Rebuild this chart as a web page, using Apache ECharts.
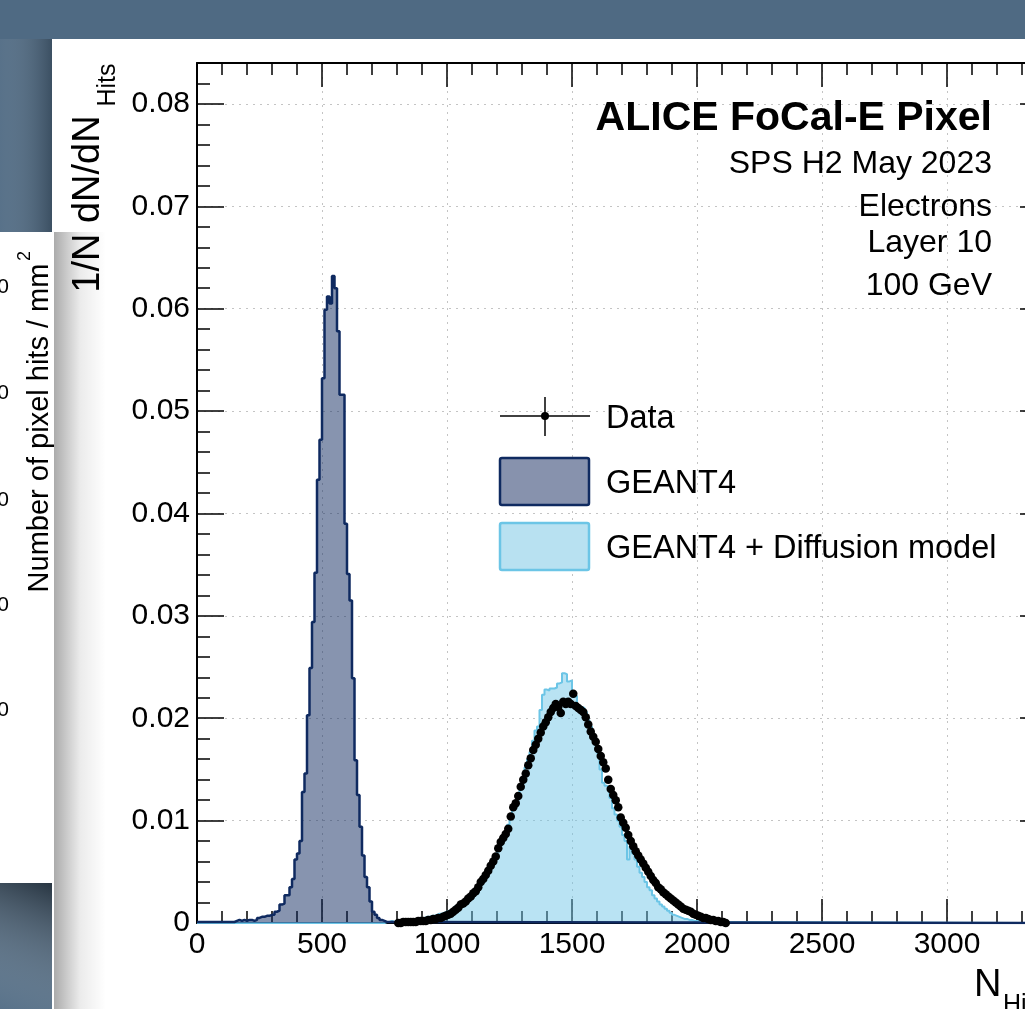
<!DOCTYPE html>
<html><head><meta charset="utf-8">
<script src="https://cdn.jsdelivr.net/npm/echarts@6/dist/echarts.min.js"></script>
<style>html,body{margin:0;padding:0;background:#4f6a83;overflow:hidden}#c{width:1025px;height:1009px}</style>
</head><body><div id="c"></div>
<script>
// ---- axis ranges / ticks ----
const X_MIN = 0, X_MAX = 3400, X_MAJOR = 500, X_MINOR = 100;
const Y_MIN = 0, Y_MAX = 0.084, Y_MAJOR = 0.01, Y_MINOR = 0.002;
const BIN = 10;

// ---- GEANT4 histogram (bin width 10, first bin starts at 0) ----
const geant4Start = 0;
const geant4 = [
  0.0001,0.0001,0.0001,0.0001,0.0001,0.0001,0.0001,0.0001,0.0001,0.0001,
  0.0001,0.0001,0.0001,0.0001,0.0001,0.0002,0.0003,0.0002,0.0003,0.0002,
  0.0003,0.0003,0.0002,0.0003,0.0005,0.0006,0.0006,0.0007,0.0007,0.0008,
  0.0008,0.0011,0.0012,0.0018,0.0019,0.0027,0.0027,0.0035,0.0043,0.0062,
  0.0068,0.0080,0.0128,0.0146,0.0203,0.0249,0.0294,0.0342,0.0433,0.0472,
  0.0532,0.0599,0.0612,0.0605,0.0632,0.0620,0.0578,0.0516,0.0516,0.0390,
  0.0341,0.0315,0.0239,0.0159,0.0125,0.0094,0.0066,0.0045,0.0035,0.0021,
  0.0011,0.0008,0.0005,0.0003,0.0002,0.0001,0.0001
];

// ---- GEANT4 + Diffusion model histogram (bin width 10, first bin at 750) ----
const diffusionStart = 750;
const diffusion = [
  0.0001,0.0001,0.0002,0.0001,0.0002,0.0002,0.0002,0.0003,0.0002,0.0003,
  0.0003,0.0004,0.0004,0.0005,0.0004,0.0005,0.0006,0.0006,0.0007,0.0007,
  0.0008,0.0009,0.0009,0.0010,0.0011,0.0012,0.0013,0.0014,0.0016,0.0017,
  0.0018,
  0.0020,0.0022,0.0024,0.0026,0.0029,0.0031,0.0035,0.0038,0.0042,0.0046,
  0.0050,0.0054,0.0060,0.0065,0.0070,0.0076,0.0082,0.0089,0.0096,0.0103,
  0.0111,0.0118,0.0126,0.0133,0.0141,0.0152,0.0160,0.0167,0.0178,0.0188,
  0.0192,0.0208,0.0223,0.0228,0.0227,0.0229,0.0229,0.0230,0.0234,0.0235,
  0.0244,0.0243,0.0236,0.0237,0.0221,0.0222,0.0212,0.0211,0.0210,0.0206,
  0.0198,0.0192,0.0182,0.0174,0.0166,0.0150,0.0137,0.0134,0.0133,0.0122,
  0.0112,0.0106,0.0100,0.0094,0.0086,0.0080,0.0062,0.0075,0.0068,0.0062,
  0.0055,0.0049,0.0045,0.0040,0.0035,0.0032,0.0027,0.0024,0.0021,0.0018,
  0.0016,0.0014,0.0012,0.0010,0.0008,0.0007,0.0006,0.0005,0.0004,0.0004,
  0.0003,0.0003,0.0002,0.0002,0.0002,0.0001,0.0001,0.0001,0.0001,0.0001
];

// ---- Data points (bin centres, width 10, first centre at 805) ----
const dataStart = 805;
const dataY = [
  0.0000,0.0000,0.0001,0.0001,0.0001,0.0001,0.0001,0.0001,0.0002,0.0002,
  0.0002,0.0002,0.0003,0.0003,0.0004,0.0004,0.0005,0.0005,0.0006,0.0007,
  0.0008,0.0009,0.0011,0.0013,0.0015,0.0018,0.0019,0.0021,0.0024,0.0026,
  0.0029,0.0031,0.0035,0.0040,0.0043,0.0047,0.0051,0.0056,0.0060,0.0065,
  0.0073,0.0079,0.0083,0.0087,0.0092,0.0104,0.0113,0.0117,0.0124,0.0133,
  0.0140,0.0146,0.0154,0.0161,0.0169,0.0174,0.0180,0.0186,0.0192,0.0196,
  0.0201,0.0206,0.0210,0.0214,0.0211,0.0205,0.0216,0.0214,0.0216,0.0214,
  0.0224,0.0212,0.0210,0.0208,0.0206,0.0201,0.0194,0.0187,0.0182,0.0177,
  0.0170,0.0163,0.0157,0.0151,0.0140,0.0131,0.0125,0.0120,0.0113,0.0103,
  0.0098,0.0093,0.0086,0.0080,0.0075,0.0070,0.0066,0.0062,0.0058,0.0054,
  0.0050,0.0046,0.0042,0.0039,0.0035,0.0033,0.0030,0.0028,0.0026,0.0024,
  0.0022,0.0020,0.0018,0.0016,0.0014,0.0013,0.0012,0.0011,0.0009,0.0008,
  0.0007,0.0006,0.0005,0.0005,0.0004,0.0003,0.0003,0.0002,0.0002,0.0001,
  0.0001,0.0000
];

// ---- texts ----
const titleLines = ['SPS H2 May 2023', 'Electrons', 'Layer 10', '100 GeV'];
const legendLabels = ['Data', 'GEANT4', 'GEANT4 + Diffusion model'];

const FONT = '"Liberation Sans", Arial, Helvetica, sans-serif';
const NAVY = '#0f2a60';
const LIGHT = '#6cc5e6';

function histLine(start, vals) {
  const pts = [];
  if (start > X_MIN) pts.push([X_MIN, 0]);
  vals.forEach((v, i) => pts.push([start + i * BIN, v]));
  pts.push([start + vals.length * BIN, 0]);
  pts.push([X_MAX, 0]);
  return pts;
}

const chart = echarts.init(document.getElementById('c'), null, {renderer: 'canvas'});

const tickLine = {color: '#000', width: 1.5};
const labelStyle = {show: true, showMaxLabel: false, margin: 7, fontSize: 30, fontFamily: FONT, color: '#000', formatter: v => String(v)};
function xAx(pos, interval, len, labels, split) {
  return {
    type: 'value', min: X_MIN, max: X_MAX, interval: interval, position: pos,
    axisLine: {show: true, onZero: false, lineStyle: {color: '#000', width: 2}},
    axisTick: {show: true, inside: true, length: len, lineStyle: tickLine},
    minorTick: {show: false},
    axisLabel: labels ? labelStyle : {show: false},
    splitLine: split ? {show: true, lineStyle: {color: '#c4c4c4', width: 1, type: [2, 5]}} : {show: false}
  };
}
function yAx(pos, interval, len, labels, split) {
  return {
    type: 'value', min: Y_MIN, max: Y_MAX, interval: interval, position: pos,
    axisLine: {show: true, onZero: false, lineStyle: {color: '#000', width: 2}},
    axisTick: {show: true, inside: true, length: len, lineStyle: tickLine},
    minorTick: {show: false},
    axisLabel: labels ? Object.assign({}, labelStyle, {formatter: v => String(Math.round(v * 1000) / 1000)}) : {show: false},
    splitLine: split ? {show: true, lineStyle: {color: '#c4c4c4', width: 1, type: [2, 5]}} : {show: false}
  };
}

const txt = (x, y, text, size, opts) => Object.assign({
  type: 'text', x: x, y: y, z: 20,
  style: Object.assign({text: text, fill: '#000', font: size + 'px ' + FONT, align: 'left', verticalAlign: 'middle'}, (opts && opts.style) || {})
}, opts && opts.rotation ? {rotation: opts.rotation} : {});

const LG = echarts.graphic.LinearGradient;
const graphics = [
  {type: 'rect', z: -10, shape: {x: 52, y: 39, width: 1000, height: 1000}, style: {fill: '#ffffff'}},
  {type: 'rect', z: -10, shape: {x: 0, y: 39, width: 52, height: 194},
    style: {fill: new LG(0, 0, 1, 0, [{offset: 0, color: 'rgba(255,255,255,0.05)'}, {offset: 1, color: 'rgba(0,0,0,0.25)'}])}},
  {type: 'rect', z: -10, shape: {x: 0, y: 883, width: 52, height: 126},
    style: {fill: new LG(0, 1, 1, 0, [{offset: 0, color: 'rgba(255,255,255,0.05)'}, {offset: 1, color: 'rgba(0,0,0,0.5)'}])}},
  {type: 'rect', z: -9, shape: {x: 0, y: 232, width: 54, height: 651}, style: {fill: '#ffffff'}},
  {type: 'rect', z: -9, shape: {x: 54, y: 232, width: 52, height: 777},
    style: {fill: new LG(0, 0, 1, 0, [{offset: 0, color: 'rgba(0,0,0,0.33)'}, {offset: 0.5, color: 'rgba(0,0,0,0.08)'}, {offset: 1, color: 'rgba(0,0,0,0)'}])}},
  txt(40, 428, 'Number of pixel hits / mm', 29, {rotation: Math.PI / 2, style: {align: 'center'}}),
  txt(25, 256, '2', 18, {rotation: Math.PI / 2, style: {align: 'center'}}),
  txt(9, 287, '0', 21, {style: {align: 'right'}}),
  txt(9, 393, '0', 21, {style: {align: 'right'}}),
  txt(9, 500, '0', 21, {style: {align: 'right'}}),
  txt(9, 605, '0', 21, {style: {align: 'right'}}),
  txt(9, 710, '0', 21, {style: {align: 'right'}}),
  txt(89, 204, '1/N dN/dN', 38, {rotation: Math.PI / 2, style: {align: 'center'}}),
  txt(108, 85, 'Hits', 25, {rotation: Math.PI / 2, style: {align: 'center'}}),
  txt(974, 986, 'N', 38),
  txt(1003, 1005, 'Hits', 25),
  txt(992, 119, 'ALICE FoCal-E Pixel', 41, {style: {align: 'right', font: 'bold 41px ' + FONT}}),
  txt(992, 164, titleLines[0], 32, {style: {align: 'right'}}),
  txt(992, 207, titleLines[1], 32, {style: {align: 'right'}}),
  txt(992, 243, titleLines[2], 32, {style: {align: 'right'}}),
  txt(992, 286, titleLines[3], 32, {style: {align: 'right'}}),
  {type: 'line', z: 20, shape: {x1: 500, y1: 416, x2: 590, y2: 416}, style: {stroke: '#000', lineWidth: 1.5}},
  {type: 'line', z: 20, shape: {x1: 545, y1: 397, x2: 545, y2: 436}, style: {stroke: '#000', lineWidth: 1.5}},
  {type: 'circle', z: 20, shape: {cx: 545, cy: 416, r: 4}, style: {fill: '#000'}},
  {type: 'rect', z: 20, shape: {x: 500, y: 458, width: 89, height: 47, r: 2}, style: {fill: '#8792ad', stroke: NAVY, lineWidth: 2.5}},
  {type: 'rect', z: 20, shape: {x: 500, y: 523, width: 89, height: 47, r: 2}, style: {fill: '#b8e1f1', stroke: LIGHT, lineWidth: 2.5}},
  txt(606, 419, legendLabels[0], 32.5),
  txt(606, 484, legendLabels[1], 32.5),
  txt(606, 549, legendLabels[2], 32.5)
];

const option = {
  animation: false,
  backgroundColor: '#4f6a83',
  grid: {left: 197, top: 63, width: (X_MAX - X_MIN) * 0.25, height: 860, containLabel: false, outerBoundsMode: 'none'},
  xAxis: [
    xAx('bottom', X_MAJOR, 24, true, true),
    xAx('top', X_MAJOR, 24, false, false),
    Object.assign(xAx('bottom', X_MINOR, 12, false, false), {axisLine: {show: false, onZero: false}}),
    Object.assign(xAx('top', X_MINOR, 12, false, false), {axisLine: {show: false, onZero: false}})
  ],
  yAxis: [
    yAx('left', Y_MAJOR, 27, true, true),
    yAx('right', Y_MAJOR, 27, false, false),
    Object.assign(yAx('left', Y_MINOR, 13, false, false), {axisLine: {show: false, onZero: false}}),
    Object.assign(yAx('right', Y_MINOR, 13, false, false), {axisLine: {show: false, onZero: false}})
  ],
  series: [
    {
      name: legendLabels[2], type: 'line', step: 'end', xAxisIndex: 0, yAxisIndex: 0, z: 3,
      data: histLine(diffusionStart, diffusion), symbol: 'none', showSymbol: false,
      lineStyle: {color: LIGHT, width: 2}, areaStyle: {color: LIGHT, opacity: 0.48}
    },
    {
      name: legendLabels[1], type: 'line', step: 'end', xAxisIndex: 0, yAxisIndex: 0, z: 4,
      data: histLine(geant4Start, geant4), symbol: 'none', showSymbol: false,
      lineStyle: {color: NAVY, width: 2.5}, areaStyle: {color: NAVY, opacity: 0.5}
    },
    {
      name: legendLabels[0], type: 'scatter', xAxisIndex: 0, yAxisIndex: 0, clip: false, z: 6,
      data: dataY.map((v, i) => [dataStart + i * BIN, v]), symbol: 'circle', symbolSize: 8.5,
      itemStyle: {color: '#000', opacity: 1, borderWidth: 0},
      emphasis: {disabled: true}
    }
  ],
  graphic: graphics
};
chart.setOption(option);
</script></body></html>
